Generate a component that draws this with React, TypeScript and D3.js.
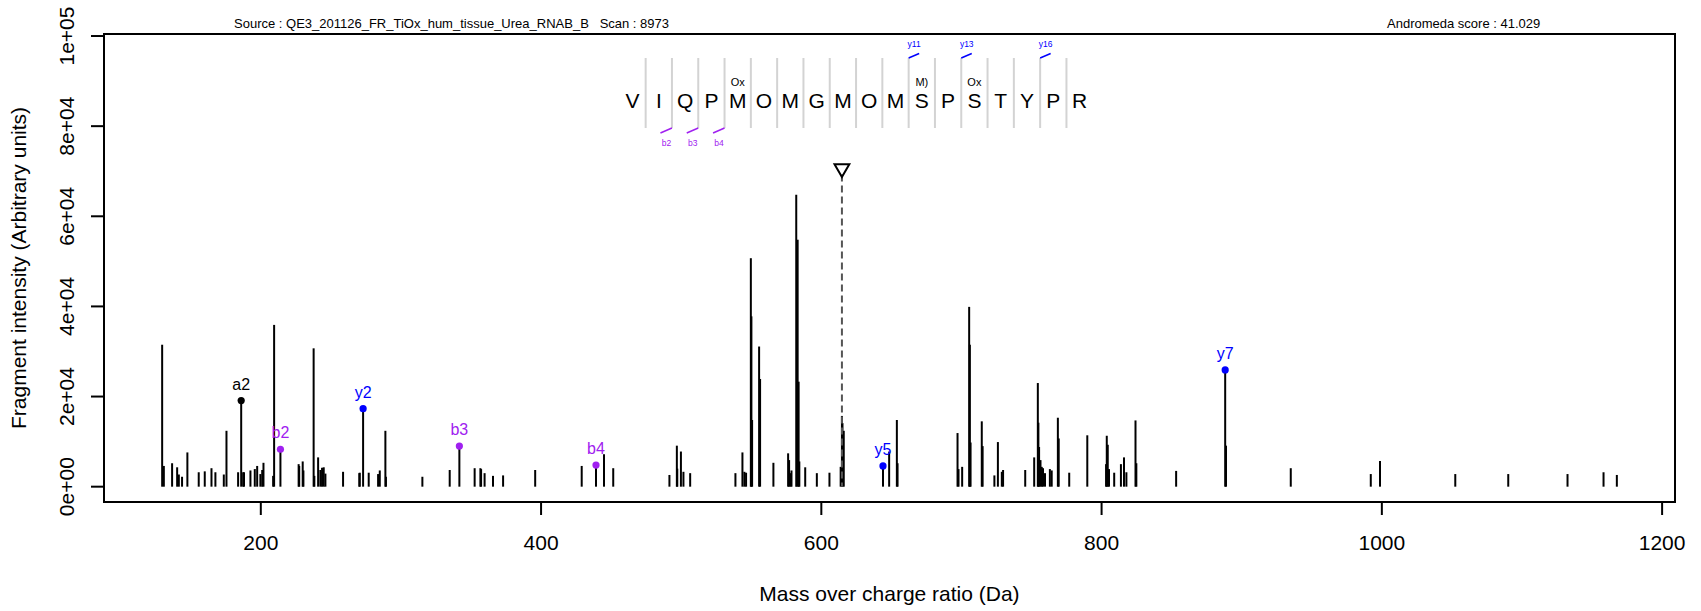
import React from 'react';
import * as d3 from 'd3';

// ---------- data ----------
const residues = ['V', 'I', 'Q', 'P', 'M', 'O', 'M', 'G', 'M', 'O', 'M', 'S', 'P', 'S', 'T', 'Y', 'P', 'R'];
const modIndex = [4, 11, 13];
const modLabel = ['Ox', 'M)', 'Ox'];
const bIonSite = [2, 3, 4];
const bIonLabel = ['b2', 'b3', 'b4'];
const yIonSite = [11, 13, 16];
const yIonLabel = ['y11', 'y13', 'y16'];

const peakMz = [
  129.6, 130.8, 136.7, 140.3, 141.5, 143.8, 147.6, 155.7, 160.0, 164.8, 167.6, 173.6, 175.5, 183.8, 187.4, 188.0,
  192.6, 195.7, 197.4, 199.7, 201.0, 201.9, 208.8, 209.5, 227.0, 227.4, 229.9, 230.4, 237.7, 238.2, 240.9, 242.5,
  243.7, 244.9, 246.1, 258.7, 270.3, 270.6, 277.0, 283.7, 284.9, 288.9, 289.3, 315.3, 334.8, 352.6, 356.7, 357.2,
  359.7, 365.7, 372.9, 395.8, 429.0, 444.9, 451.5, 491.6, 496.9, 497.2, 499.8, 501.6, 506.4, 538.7, 543.7, 545.1,
  546.3, 549.7, 550.1, 550.6, 555.6, 556.3, 565.8, 576.3, 577.0, 578.0, 578.7, 582.1, 583.1, 583.8, 584.3, 588.5,
  596.8, 605.8, 613.8, 614.7, 615.1, 616.0, 648.4, 653.9, 654.4, 697.2, 697.9, 700.5, 705.5, 706.0, 706.5, 714.5,
  715.1, 723.5, 726.0, 728.8, 729.7, 745.5, 751.9, 754.5, 754.9, 755.4, 756.4, 757.3, 758.2, 759.6, 763.1, 764.4,
  768.8, 769.4, 776.9, 789.8, 803.2, 803.7, 804.4, 805.3, 809.0, 813.8, 816.0, 817.7, 824.2, 824.8, 853.2, 888.8,
  935.0, 992.1, 998.7, 1052.4, 1090.2, 1132.5, 1158.2, 1167.7,
];
const peakIntensity = [
  31500, 4600, 5200, 4300, 2700, 2200, 7600, 3200, 3400, 4100, 3200, 2700, 12400, 3200, 3200, 3200,
  3600, 3900, 4600, 2800, 3700, 5300, 2400, 35900, 5000, 4600, 5600, 3600, 30700, 2400, 6500, 3700,
  4200, 4300, 2900, 3300, 3000, 3100, 3100, 2800, 3600, 12400, 2200, 2200, 3700, 4100, 4100, 3900,
  3000, 2400, 2500, 3700, 4600, 7200, 4100, 2600, 9100, 4000, 7800, 3300, 3000, 3000, 7600, 3300,
  3100, 50700, 37800, 14800, 31100, 23900, 5300, 7400, 5900, 3000, 3600, 64800, 54800, 23300, 5600, 4300,
  3000, 3100, 4400, 15700, 14100, 12400, 7800, 14800, 5200, 11900, 3900, 4400, 39900, 31500, 9800, 14500,
  9000, 2500, 9900, 3300, 3700, 3700, 6500, 23000, 14200, 8800, 5900, 4400, 4100, 3000, 3900, 3600,
  15300, 10700, 3100, 11400, 5000, 11300, 9300, 3900, 3100, 5000, 6500, 3200, 14700, 5200, 3500, 9100,
  4100, 2800, 5700, 2800, 2800, 2800, 3200, 2600,
];

const annMz = [186.0, 214.0, 273.0, 341.7, 439.2, 644.0, 888.2];
const annIntensity = [19100, 8300, 17300, 9000, 4800, 4600, 25900];
const annLabel = ['a2', 'b2', 'y2', 'b3', 'b4', 'y5', 'y7'];
const annType = ['a', 'b', 'y', 'b', 'b', 'y', 'y'];

const precursorMz = 614.7;
const precursorMarker = 70600;

const xTicks = [200, 400, 600, 800, 1000, 1200];
const yTicks = [0, 20000, 40000, 60000, 80000, 100000];
const yTickLabels = ['0e+00', '2e+04', '4e+04', '6e+04', '8e+04', '1e+05'];

const headerLeft = 'Source : QE3_201126_FR_TiOx_hum_tissue_Urea_RNAB_B   Scan : 8973';
const headerRight = 'Andromeda score : 41.029';
const xTitle = 'Mass over charge ratio (Da)';
const yTitle = 'Fragment intensity (Arbitrary units)';

// ---------- layout ----------
const W = 1701;
const H = 611;
const L = 104, R = 1675, T = 34, B = 502;
const FONT = '"Liberation Sans", Arial, Helvetica, sans-serif';
const typeColor: Record<string, string> = { a: '#000000', b: '#A020F0', y: '#0000FF' };

export default function App() {
  const x = d3.scaleLinear().domain([88.1, 1209.2]).range([L, R]);
  const y = d3.scaleLinear().domain([-3400, 100450]).range([B, T]);
  const seqX = d3.scaleLinear().domain([0, residues.length - 1]).range([632.5, 1079.6]);
  const sepX = (j: number) => seqX(j - 0.5);
  const sepTop = 58, sepBot = 128;
  const tri = d3.symbol().type(d3.symbolTriangle).size(95)();

  return (
    <svg width={W} height={H} style={{ position: 'absolute', left: 0, top: 0, background: '#fff' }} fontFamily={FONT}>
      <rect x={0} y={0} width={W} height={H} fill="#fff" />
      {/* header */}
      <text x={234} y={28} fontSize={13} style={{ whiteSpace: 'pre' }}>{headerLeft}</text>
      <text x={1387} y={28} fontSize={13}>{headerRight}</text>

      {/* peaks */}
      {peakMz.map((m, i) => (
        <line key={'p' + i} x1={x(m)} x2={x(m)} y1={y(0)} y2={y(peakIntensity[i])} stroke="#000" strokeWidth={2} />
      ))}
      {annMz.map((m, i) => (
        <g key={'a' + i}>
          <line x1={x(m)} x2={x(m)} y1={y(0)} y2={y(annIntensity[i])} stroke="#000" strokeWidth={2} />
          <circle cx={x(m)} cy={y(annIntensity[i])} r={3.6} fill={typeColor[annType[i]]} />
          <text x={x(m)} y={y(annIntensity[i]) - 11} fontSize={16} textAnchor="middle" fill={typeColor[annType[i]]}>{annLabel[i]}</text>
        </g>
      ))}

      {/* precursor */}
      <line x1={x(precursorMz)} x2={x(precursorMz)} y1={y(precursorMarker) + 6} y2={y(0)} stroke="#555" strokeWidth={2} strokeDasharray="7 4" />
      <path d={tri} transform={`translate(${x(precursorMz)},${y(precursorMarker)}) rotate(180)`} fill="none" stroke="#000" strokeWidth={2} />

      {/* sequence */}
      {residues.slice(1).map((_, k) => (
        <line key={'s' + k} x1={sepX(k + 1)} x2={sepX(k + 1)} y1={sepTop} y2={sepBot} stroke="#D3D3D3" strokeWidth={2} />
      ))}
      {residues.map((r, i) => (
        <text key={'r' + i} x={seqX(i)} y={100} dominantBaseline="central" textAnchor="middle" fontSize={21}>{r}</text>
      ))}
      {modIndex.map((mi, k) => (
        <text key={'m' + k} x={seqX(mi)} y={82} dominantBaseline="central" textAnchor="middle" fontSize={11}>{modLabel[k]}</text>
      ))}
      {bIonSite.map((s, k) => (
        <g key={'b' + k}>
          <line x1={sepX(s)} y1={sepBot} x2={sepX(s) - 11.5} y2={sepBot + 5} stroke="#A020F0" strokeWidth={1.5} />
          <text x={sepX(s) - 5.5} y={143} dominantBaseline="central" textAnchor="middle" fontSize={8.5} fill="#A020F0">{bIonLabel[k]}</text>
        </g>
      ))}
      {yIonSite.map((s, k) => (
        <g key={'y' + k}>
          <line x1={sepX(s)} y1={sepTop} x2={sepX(s) + 10.5} y2={sepTop - 4.5} stroke="#0000FF" strokeWidth={1.5} />
          <text x={sepX(s) + 5.5} y={43.5} dominantBaseline="central" textAnchor="middle" fontSize={8.5} fill="#0000FF">{yIonLabel[k]}</text>
        </g>
      ))}

      {/* box */}
      <rect x={L} y={T} width={R - L} height={B - T} fill="none" stroke="#000" strokeWidth={2} />

      {/* x axis */}
      {xTicks.map((t) => (
        <g key={'xt' + t}>
          <line x1={x(t)} x2={x(t)} y1={B} y2={B + 13} stroke="#000" strokeWidth={2} />
          <text x={x(t)} y={550} textAnchor="middle" fontSize={21}>{t}</text>
        </g>
      ))}
      <text x={(L + R) / 2} y={601} textAnchor="middle" fontSize={21}>{xTitle}</text>

      {/* y axis */}
      {yTicks.map((t, i) => (
        <g key={'yt' + t}>
          <line x1={L - 13} x2={L} y1={y(t)} y2={y(t)} stroke="#000" strokeWidth={2} />
          <text transform={`translate(66,${y(t)}) rotate(-90)`} textAnchor="middle" dominantBaseline="central" fontSize={21}>{yTickLabels[i]}</text>
        </g>
      ))}
      <text transform={`translate(18,${(T + B) / 2}) rotate(-90)`} textAnchor="middle" dominantBaseline="central" fontSize={21}>{yTitle}</text>
    </svg>
  );
}
